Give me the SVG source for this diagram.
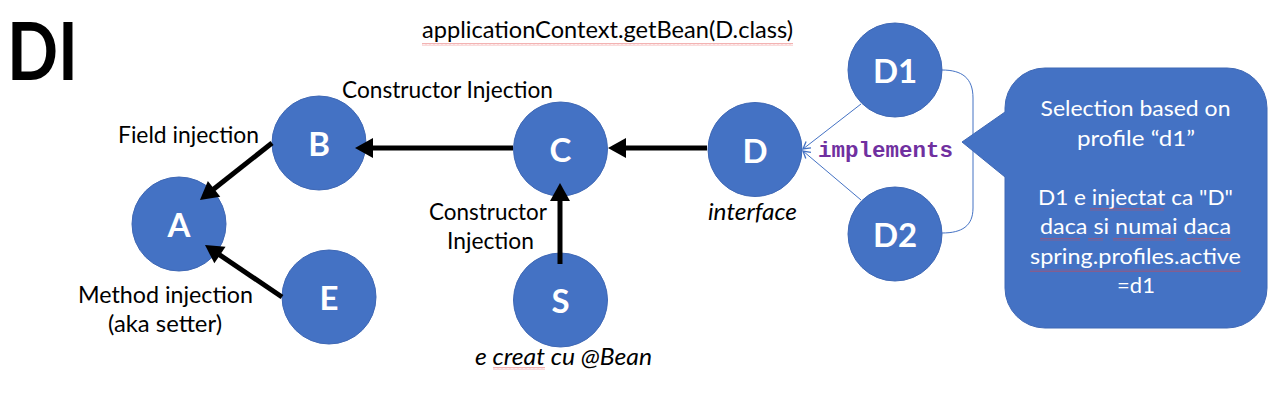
<svg xmlns="http://www.w3.org/2000/svg" width="1284" height="409" viewBox="0 0 1284 409">
<style>
.node{fill:#4472C4;stroke:#3F68B5;stroke-width:1}
.nl{font-family:Lato,"Liberation Sans",sans-serif;font-weight:bold;font-size:33px;fill:#fff;text-anchor:middle}
.t{font-family:Lato,"Liberation Sans",sans-serif;font-size:24px;fill:#000}
.ti{font-family:Lato,"Liberation Sans",sans-serif;font-size:24px;fill:#000;font-style:italic}
.ct{font-family:Lato,"Liberation Sans",sans-serif;font-size:22px;fill:#fff;text-anchor:middle}
.thick{stroke:#000;stroke-width:5;fill:none;marker-end:url(#ah)}
.thin{stroke:#4472C4;stroke-width:1;fill:none}
.sq{fill:url(#wave)}
</style>
<defs>
<marker id="ah" markerUnits="userSpaceOnUse" markerWidth="20" markerHeight="22" refX="8" refY="10" orient="auto" overflow="visible">
<path d="M0,0 L18,10 L0,20 Z" fill="#000"/>
</marker>
<marker id="oa" markerUnits="userSpaceOnUse" markerWidth="10" markerHeight="10" refX="7" refY="4" orient="auto" overflow="visible">
<path d="M0,0 L7,4 L0,8" fill="none" stroke="#4472C4" stroke-width="1.3"/>
</marker>
<pattern id="wave" patternUnits="userSpaceOnUse" width="4" height="3">
<path d="M0,2.5 L1,0.5 L2,2.5 L3,0.5 L4,2.5" fill="none" stroke="#E04040" stroke-width="0.5" stroke-opacity="0.8"/>
</pattern>
</defs>
<rect width="1284" height="409" fill="#fff"/>

<text x="7" y="80" font-family="Lato,'Liberation Sans',sans-serif" font-weight="bold" font-size="80" textLength="71" lengthAdjust="spacingAndGlyphs">DI</text>
<text class="t" x="422" y="38" textLength="371" lengthAdjust="spacingAndGlyphs">applicationContext.getBean(D.class)</text>
<rect class="sq" x="422" y="43" width="371" height="3"/>

<g id="node-A"><ellipse class="node" cx="179" cy="224" rx="47" ry="47"/><text class="nl" x="179" y="237">A</text></g>
<g id="node-B"><ellipse class="node" cx="319" cy="143" rx="47" ry="47"/><text class="nl" x="319" y="156">B</text></g>
<g id="node-E"><ellipse class="node" cx="329" cy="297" rx="47" ry="47"/><text class="nl" x="329" y="310">E</text></g>
<g id="node-C"><ellipse class="node" cx="560.5" cy="149" rx="47" ry="47"/><text class="nl" x="560.5" y="162">C</text></g>
<g id="node-S"><ellipse class="node" cx="560.5" cy="300" rx="47" ry="47"/><text class="nl" x="560.5" y="313">S</text></g>
<g id="node-D"><ellipse class="node" cx="755" cy="149.5" rx="47" ry="47"/><text class="nl" x="755" y="162.5">D</text></g>
<g id="node-D1"><ellipse class="node" cx="895" cy="70" rx="47" ry="47"/><text class="nl" x="895" y="83">D1</text></g>
<g id="node-D2"><ellipse class="node" cx="895" cy="234" rx="47" ry="47"/><text class="nl" x="895" y="247">D2</text></g>

<g id="callout">
<path d="M1045,68 H1227 A40,40 0 0 1 1267,108 V288 A40,40 0 0 1 1227,328 H1045 A40,40 0 0 1 1005,288 V177 L962,142 L1005,112 V108 A40,40 0 0 1 1045,68 Z" fill="#4472C4" stroke="#3F68B5" stroke-width="1"/>
<text class="ct" x="1135.5" y="116" textLength="190" lengthAdjust="spacingAndGlyphs">Selection based on</text>
<text class="ct" x="1136" y="145.5" textLength="118" lengthAdjust="spacingAndGlyphs">profile “d1”</text>
<text class="ct" x="1135.5" y="204.5" textLength="195" lengthAdjust="spacingAndGlyphs">D1 e injectat ca "D"</text>
<text class="ct" x="1135.5" y="234" textLength="191" lengthAdjust="spacingAndGlyphs">daca si numai daca</text>
<text class="ct" x="1135.5" y="263.5" textLength="211" lengthAdjust="spacingAndGlyphs">spring.profiles.active</text>
<text class="ct" x="1136" y="293">=d1</text>
<rect class="sq" x="1090" y="208" width="74" height="3"/>
<rect class="sq" x="1040" y="238" width="40" height="3"/>
<rect class="sq" x="1088" y="238" width="15" height="3"/>
<rect class="sq" x="1113" y="238" width="62" height="3"/>
<rect class="sq" x="1187" y="238" width="44" height="3"/>
<rect class="sq" x="1030" y="269" width="211" height="3"/>
</g>

<g id="labels">
<text class="t" x="342" y="98" textLength="211" lengthAdjust="spacingAndGlyphs">Constructor Injection</text>
<text class="t" x="118" y="143" textLength="141" lengthAdjust="spacingAndGlyphs">Field injection</text>
<text class="t" x="429" y="220" textLength="118" lengthAdjust="spacingAndGlyphs">Constructor</text>
<text class="t" x="447" y="249" textLength="87" lengthAdjust="spacingAndGlyphs">Injection</text>
<text class="t" x="78" y="303" textLength="175" lengthAdjust="spacingAndGlyphs">Method injection</text>
<text class="t" x="108" y="332" textLength="114" lengthAdjust="spacingAndGlyphs">(aka setter)</text>
<text class="ti" x="475" y="365" textLength="177" lengthAdjust="spacingAndGlyphs">e creat cu @Bean</text>
<rect class="sq" x="493" y="367" width="52" height="3"/>
<text class="ti" x="708" y="220" textLength="89" lengthAdjust="spacingAndGlyphs">interface</text>
<text x="818" y="157" font-family="'Liberation Mono',monospace" font-weight="bold" font-size="22" fill="#7030A0" textLength="135" lengthAdjust="spacingAndGlyphs">implements</text>
</g>

<g id="connectors">
<line class="thick" x1="513" y1="148" x2="365" y2="148"/>
<line class="thick" x1="707" y1="148" x2="618" y2="148"/>
<line class="thick" x1="560" y1="264" x2="560" y2="193"/>
<line class="thick" x1="272" y1="143" x2="207.8" y2="193.8"/>
<line class="thick" x1="282" y1="297" x2="213.3" y2="250.6"/>
<line class="thin" x1="861" y1="104" x2="803" y2="149" marker-end="url(#oa)"/>
<line class="thin" x1="861" y1="200" x2="803" y2="151" marker-end="url(#oa)"/>
<path class="thin" d="M942,70 C962,70 973,78 973,98 V208 C973,226 962,233 942,233"/>
</g>
</svg>
